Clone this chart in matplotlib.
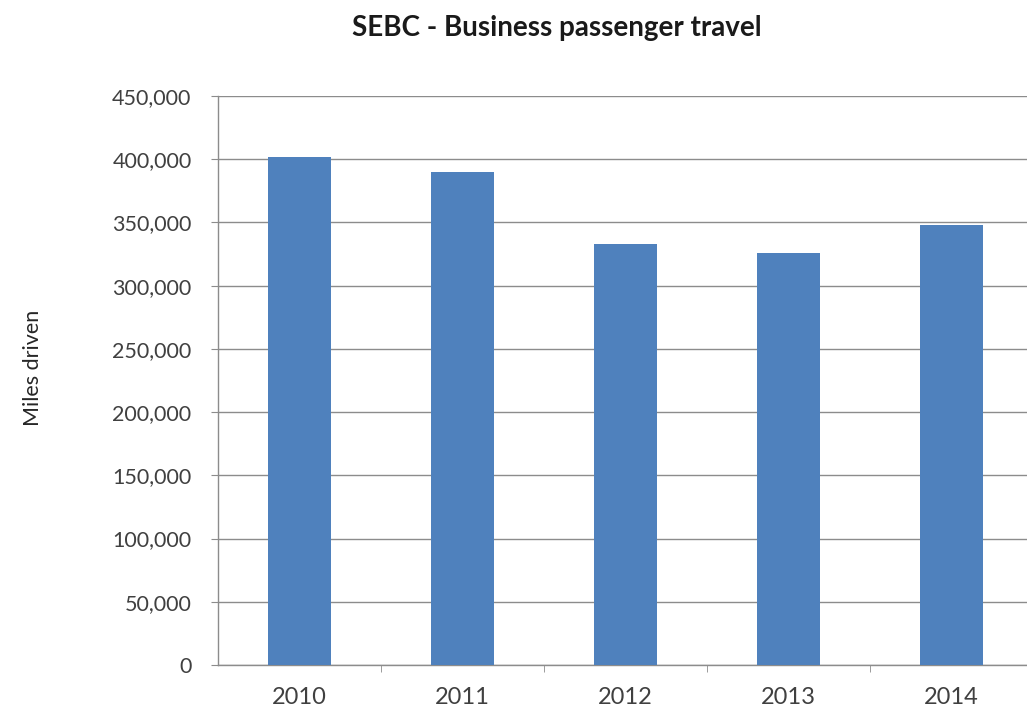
import matplotlib
matplotlib.use('Agg')
import matplotlib.pyplot as plt
from matplotlib.ticker import FuncFormatter, FixedLocator

# Business passenger travel, miles driven per year
years = ['2010', '2011', '2012', '2013', '2014']
miles = [401800, 390000, 333100, 326000, 348100]
y_ticks = list(range(0, 450001, 50000))

plt.rcParams['font.family'] = ['Lato', 'DejaVu Sans']

fig = plt.figure(figsize=(10.27, 7.11), dpi=100)
ax = fig.add_axes([218 / 1027, 46 / 711, 815 / 1027, 569 / 711])

x = range(len(years))
ax.bar(x, miles, width=0.39, color='#4f81bd', zorder=3)

ax.set_xlim(-0.5, len(years) - 0.5)
ax.set_ylim(0, 450000)
ax.set_yticks(y_ticks)
ax.yaxis.set_major_formatter(FuncFormatter(lambda v, p: f'{int(v):,}'))
ax.set_xticks(list(x))
ax.set_xticklabels(years)
ax.xaxis.set_minor_locator(FixedLocator([i + 0.5 for i in x]))

ax.grid(axis='y', color='#8c8c8c', linewidth=1.0, zorder=0)
for side in ['top', 'right']:
    ax.spines[side].set_visible(False)
for side in ['left', 'bottom']:
    ax.spines[side].set_color('#8c8c8c')
    ax.spines[side].set_linewidth(1.0)

ax.tick_params(axis='y', length=5, color='#8c8c8c', pad=14,
               labelsize=15.5, labelcolor='#404040')
ax.tick_params(axis='x', which='major', length=0, pad=16,
               labelsize=17, labelcolor='#404040')
ax.tick_params(axis='x', which='minor', length=5, color='#8c8c8c')

fig.text(557 / 1027, 1 - 28 / 711, 'SEBC - Business passenger travel',
         ha='center', va='center', fontsize=20, fontweight='bold', color='#1a1a1a')
fig.text(33 / 1027, 1 - 368 / 711, 'Miles driven', rotation=90,
         ha='center', va='center', fontsize=15.5, color='#262626')

fig.savefig('out.png', dpi=100)
plt.close(fig)
